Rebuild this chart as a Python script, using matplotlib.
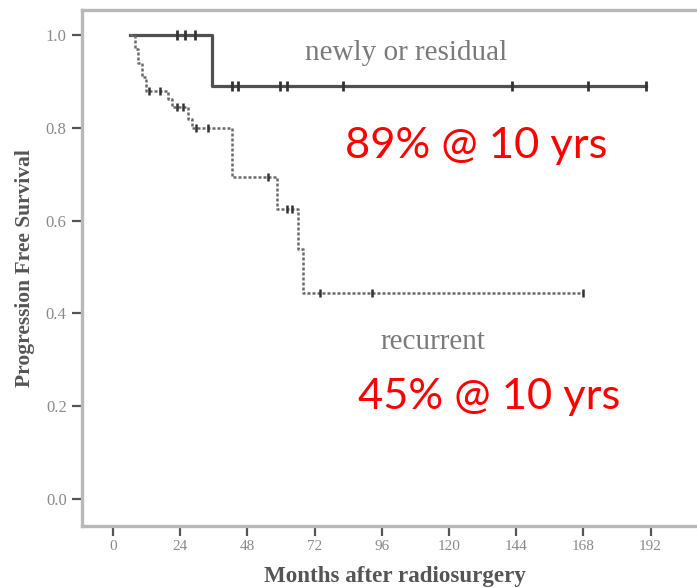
import numpy as np
import matplotlib.pyplot as plt

# Kaplan-Meier step data (months, survival)
newly_t = [6, 35.5, 190.5]
newly_s = [1.0, 0.89, 0.89]
newly_cens_t = [22.7, 25.7, 29.3, 42.5, 44.5, 59.5, 62, 82, 142.5, 169.5, 190.5]
newly_cens_s = [1.0, 1.0, 1.0, 0.89, 0.89, 0.89, 0.89, 0.89, 0.89, 0.89, 0.89]

rec_t = [6, 7.8, 9.1, 10.4, 11.8, 19.5, 21.2, 26.8, 28.2, 42.5, 58.5, 66.0, 68.0, 168]
rec_s = [1.0, 0.97, 0.94, 0.91, 0.88, 0.862, 0.845, 0.82, 0.80, 0.695, 0.625, 0.54, 0.445, 0.445]
rec_cens_t = [12.8, 16.8, 23.0, 25.0, 29.5, 34.0, 55.4, 62.0, 64.0, 74.0, 92.5, 168]
rec_cens_s = [0.88, 0.88, 0.845, 0.845, 0.80, 0.80, 0.695, 0.625, 0.625, 0.445, 0.445, 0.445]

x_ticks = [0, 24, 48, 72, 96, 120, 144, 168, 192]
y_ticks = [0.0, 0.2, 0.4, 0.6, 0.8, 1.0]

fig = plt.figure(figsize=(6.97, 5.88), dpi=100)
ax = fig.add_axes([82/697, 62/588, 615/697, 516/588])

# curves
ax.step(newly_t, newly_s, where='post', color='#505050', lw=2.3)
ax.plot(newly_cens_t, newly_cens_s, ls='none', marker='|', ms=7, mew=2, color='#333333')
ax.step(rec_t, rec_s, where='post', color='#6a6a6a', lw=1.8, ls=(0, (1.2, 0.8)))
ax.plot(rec_cens_t, rec_cens_s, ls='none', marker='|', ms=6, mew=1.8, color='#333333')

ax.set_xlim(-11.07, 208.6)
ax.set_ylim(-0.058, 1.054)

serif = ['Liberation Serif', 'DejaVu Serif']
ax.set_xticks(x_ticks)
ax.set_xticklabels([str(v) for v in x_ticks], family=serif, fontsize=11, color='#8a8a8a')
ax.set_yticks(y_ticks)
ax.set_yticklabels(['%.1f' % v for v in y_ticks], family=serif, fontsize=12, color='#8a8a8a')
ax.tick_params(axis='both', direction='out', length=7, width=1.6, color='#555555')
ax.tick_params(axis='y', pad=4)
ax.tick_params(axis='x', pad=3)

for side in ['left', 'bottom', 'top']:
    ax.spines[side].set_color('#b8b8b8')
    ax.spines[side].set_linewidth(2.4)
ax.spines['right'].set_visible(False)

ax.set_xlabel('Months after radiosurgery', family=serif, fontsize=16.6, fontweight='bold',
              color='#555555')
ax.xaxis.set_label_coords(0.509, -0.077)
ax.set_ylabel('Progression Free Survival', family=serif, fontsize=15.5, fontweight='bold',
              color='#555555', labelpad=8)

# group names
ax.text(68.6, 0.946, 'newly or residual', family=serif, fontsize=21, color='#7a7a7a',
        ha='left', va='baseline')
ax.text(95.4, 0.323, 'recurrent', family=serif, fontsize=21, color='#7a7a7a',
        ha='left', va='baseline')

# 10-year rates
ax.text(83.0, 0.735, '89% @ 10 yrs', family=['Lato', 'DejaVu Sans'], fontsize=31.3,
        color='#ff0000', ha='left', va='baseline')
ax.text(87.5, 0.194, '45% @ 10 yrs', family=['Lato', 'DejaVu Sans'], fontsize=31.3,
        color='#ff0000', ha='left', va='baseline')

fig.savefig('out.png', dpi=100)
